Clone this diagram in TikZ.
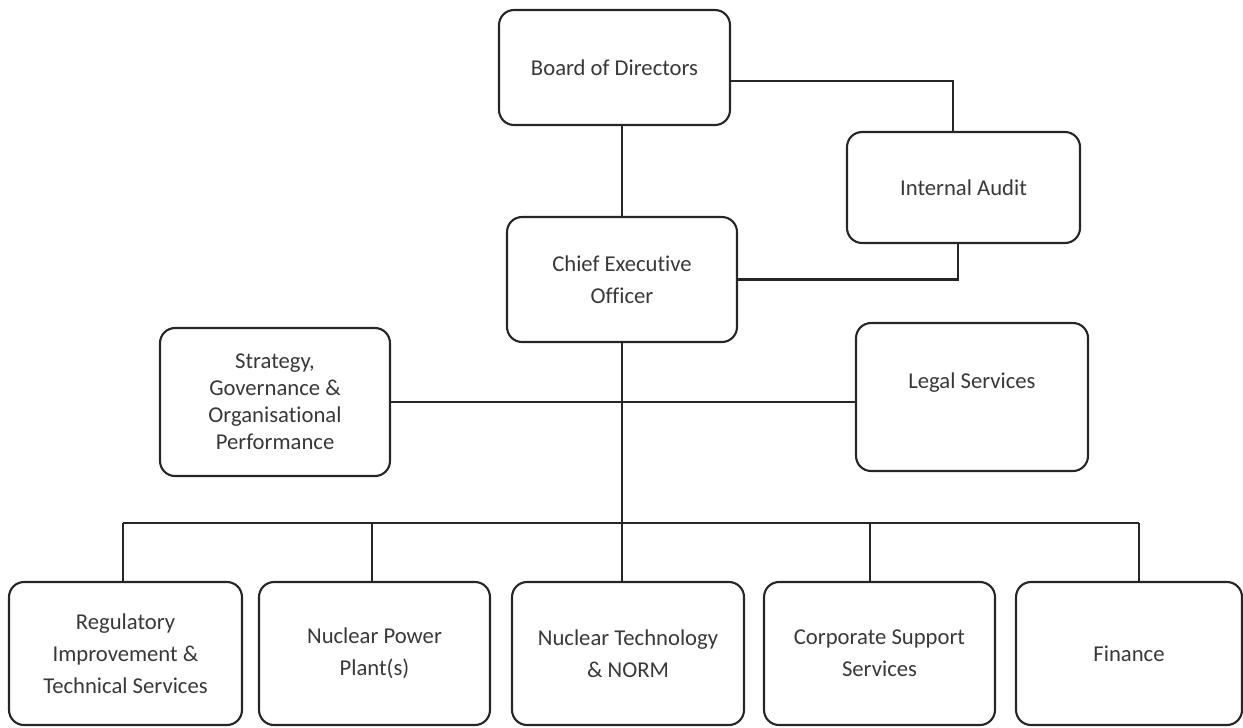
\documentclass[tikz,border=0pt]{standalone}
\usepackage{fontspec}
\setmainfont{Carlito}[Ligatures=NoCommon]

\begin{document}
\begin{tikzpicture}[x=0.02cm,y=-0.02cm,
  unit/.style={draw=black!85, line width=1.2pt, rounded corners=0.3cm, align=center,
    text=black!78, inner sep=0pt, font=\fontsize{12.9}{18.2}\selectfont},
  link/.style={draw=black!85, line width=1.2pt}]
\useasboundingbox (0,0) rectangle (1243,727);

% top of the chart
\node[unit, minimum width=4.62cm, minimum height=2.3cm] (board) at (614.5,67.5) {Board of Directors};
\node[unit, minimum width=4.66cm, minimum height=2.22cm] (audit) at (963.5,187.5) {Internal Audit};
\node[unit, minimum width=4.6cm, minimum height=2.5cm] (ceo) at (622,279.5) {Chief Executive\\Officer};

% staff units
\node[unit, minimum width=4.6cm, minimum height=2.96cm, font=\fontsize{12.9}{15.4}\selectfont] (strategy) at (275,402)
  {Strategy,\\Governance \&\\Organisational\\Performance};
\node[unit, minimum width=4.64cm, minimum height=2.96cm] (legal) at (972,397) {Legal Services\\ \mbox{}};

% divisions
\node[unit, minimum width=4.66cm, minimum height=2.86cm] (regulatory) at (125.5,653.5)
  {Regulatory\\Improvement \&\\Technical Services};
\node[unit, minimum width=4.62cm, minimum height=2.86cm] (power) at (374.5,653.5) {Nuclear Power\\Plant(s)};
\node[unit, minimum width=4.64cm, minimum height=2.86cm] (technology) at (628,653.5) {Nuclear Technology\\\& NORM};
\node[unit, minimum width=4.62cm, minimum height=2.86cm] (support) at (879.5,653.5) {Corporate Support\\Services};
\node[unit, minimum width=4.52cm, minimum height=2.86cm] (finance) at (1129,653.5) {Finance};

% reporting lines
\draw[link] (ceo.north) -- (ceo.north |- board.south);
\draw[link] ([shift={(0,13.5)}]board.east) -| ([shift={(-10.5,0)}]audit.north);
\draw[link] (ceo.east) -| ([shift={(-5.5,0)}]audit.south);
\draw[link] (strategy.east) -- (strategy.east -| legal.west);
\draw[link] (ceo.south) -- (ceo.south |- technology.north);

\coordinate (bus) at (622,523);
\draw[link] ([shift={(-2.5,0)}]regulatory.north |- bus) -- ([shift={(10,0)}]finance.north |- bus);
\foreach \n/\dx in {regulatory/-2.5, power/-2.5, support/-9.5, finance/10}
  \draw[link] ([shift={(\dx,0)}]\n.north) -- ([shift={(\dx,0)}]\n.north |- bus);

\end{tikzpicture}
\end{document}
